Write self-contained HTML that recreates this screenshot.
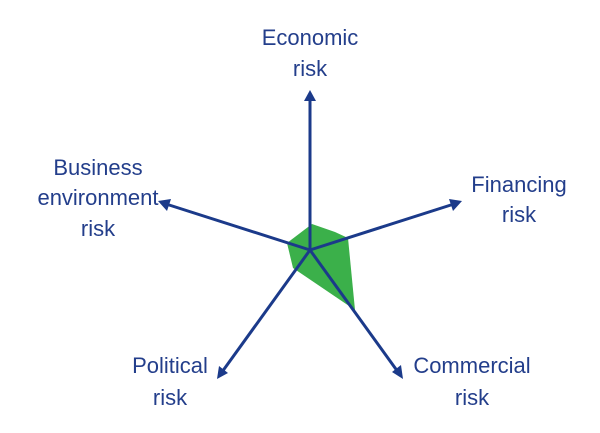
<!DOCTYPE html>
<html><head><meta charset="utf-8"><style>
html,body{margin:0;padding:0;background:#fff;}
svg{display:block;}
text{font-family:"Liberation Sans",sans-serif;font-size:22px;fill:#233e8b;text-anchor:middle;}
</style></head><body>
<svg width="600" height="433" viewBox="0 0 600 433">
<defs><marker id="a" markerWidth="6" markerHeight="6" refX="4" refY="3" orient="auto" markerUnits="userSpaceOnUse" viewBox="0 0 6 6"><path d="M0,0 L6,3 L0,6 z" fill="#1b3a8a"/></marker></defs>
<polygon points="312,224 335,232 348,238 355,310 293,268 287,243" fill="#3bb04a"/>
<g stroke="#1b3a8a" stroke-width="3" fill="none">
<line x1="310" y1="250" x2="310" y2="98"/>
<line x1="310" y1="250" x2="454" y2="204"/>
<line x1="310" y1="250" x2="398" y2="372"/>
<line x1="310" y1="250" x2="222" y2="372"/>
<line x1="310" y1="250" x2="166" y2="204"/>
</g>
<g fill="#1b3a8a">
<polygon points="310,90 304,101 316,101"/>
<polygon points="462,201 449,199 453,211"/>
<polygon points="403,379 392,372 401,365"/>
<polygon points="217,379 219,366 228,373"/>
<polygon points="158,201 171,199 167,211"/>
</g>
<text x="310" y="45">Economic</text>
<text x="310" y="76">risk</text>
<text x="98" y="175">Business</text>
<text x="98" y="205">environment</text>
<text x="98" y="236">risk</text>
<text x="519" y="192">Financing</text>
<text x="519" y="222">risk</text>
<text x="170" y="373">Political</text>
<text x="170" y="405">risk</text>
<text x="472" y="373">Commercial</text>
<text x="472" y="405">risk</text>
</svg>
</body></html>
